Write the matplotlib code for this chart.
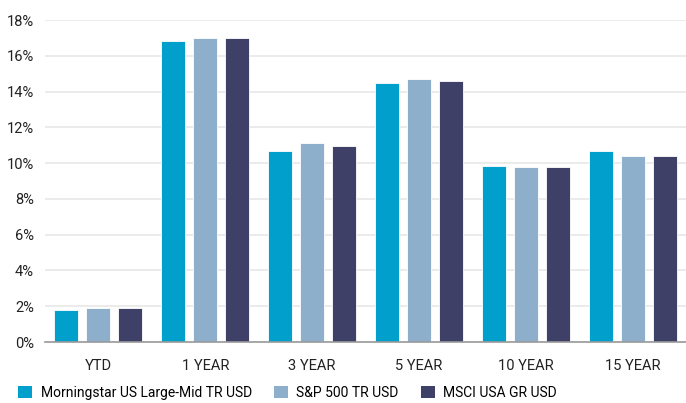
import matplotlib
matplotlib.use("Agg")
import matplotlib.pyplot as plt
import numpy as np
from matplotlib.patches import Patch

plt.rcParams['font.family'] = ['Roboto', 'DejaVu Sans']

categories = ["YTD", "1 YEAR", "3 YEAR", "5 YEAR", "10 YEAR", "15 YEAR"]
series_names = ["Morningstar US Large-Mid TR USD", "S&P 500 TR USD", "MSCI USA GR USD"]
morningstar = [1.80, 16.82, 10.65, 14.50, 9.85, 10.65]
sp500 = [1.88, 17.02, 11.10, 14.69, 9.76, 10.39]
msci = [1.88, 17.02, 10.93, 14.61, 9.76, 10.39]
yticks = [0, 2, 4, 6, 8, 10, 12, 14, 16, 18]
colors = ["#009fcc", "#8eafcc", "#3e4068"]

fig = plt.figure(figsize=(6.86, 4.03), dpi=100)
ax = fig.add_axes([45/686, 1-342/403, 641/686, 322/403])

x = np.arange(len(categories))
w = 0.225
off = 0.30
for i, (vals, c) in enumerate(zip([morningstar, sp500, msci], colors)):
    ax.bar(x + (i-1)*off, vals, width=w, color=c, edgecolor="white", linewidth=0.6, zorder=3)

ax.set_xlim(-0.5, len(categories)-0.5)
ax.set_ylim(0, 18)
ax.set_yticks(yticks)
ax.set_yticklabels([f"{v}%" for v in yticks])
ax.set_xticks(x)
ax.set_xticklabels(categories)
ax.grid(axis='y', color="#e8e8e8", linewidth=1.2, zorder=0)
for s in ['top', 'right', 'left']:
    ax.spines[s].set_visible(False)
ax.spines['bottom'].set_color("#9a9a9a")
ax.spines['bottom'].set_linewidth(1.2)
ax.spines['bottom'].set_zorder(4)
ax.tick_params(axis='both', length=0, labelsize=10.5, colors="#222222")
ax.tick_params(axis='x', pad=12)
ax.tick_params(axis='y', pad=8)

handles = [Patch(facecolor=c, edgecolor='none') for c in colors]
fig.legend(handles, series_names, loc='lower left', bbox_to_anchor=(10/686, -5/403),
           ncol=3, frameon=False, fontsize=10, handlelength=1.0, handleheight=1.0,
           handletextpad=0.6, columnspacing=1.6, borderaxespad=0.2)

fig.savefig("out.png", dpi=100)
